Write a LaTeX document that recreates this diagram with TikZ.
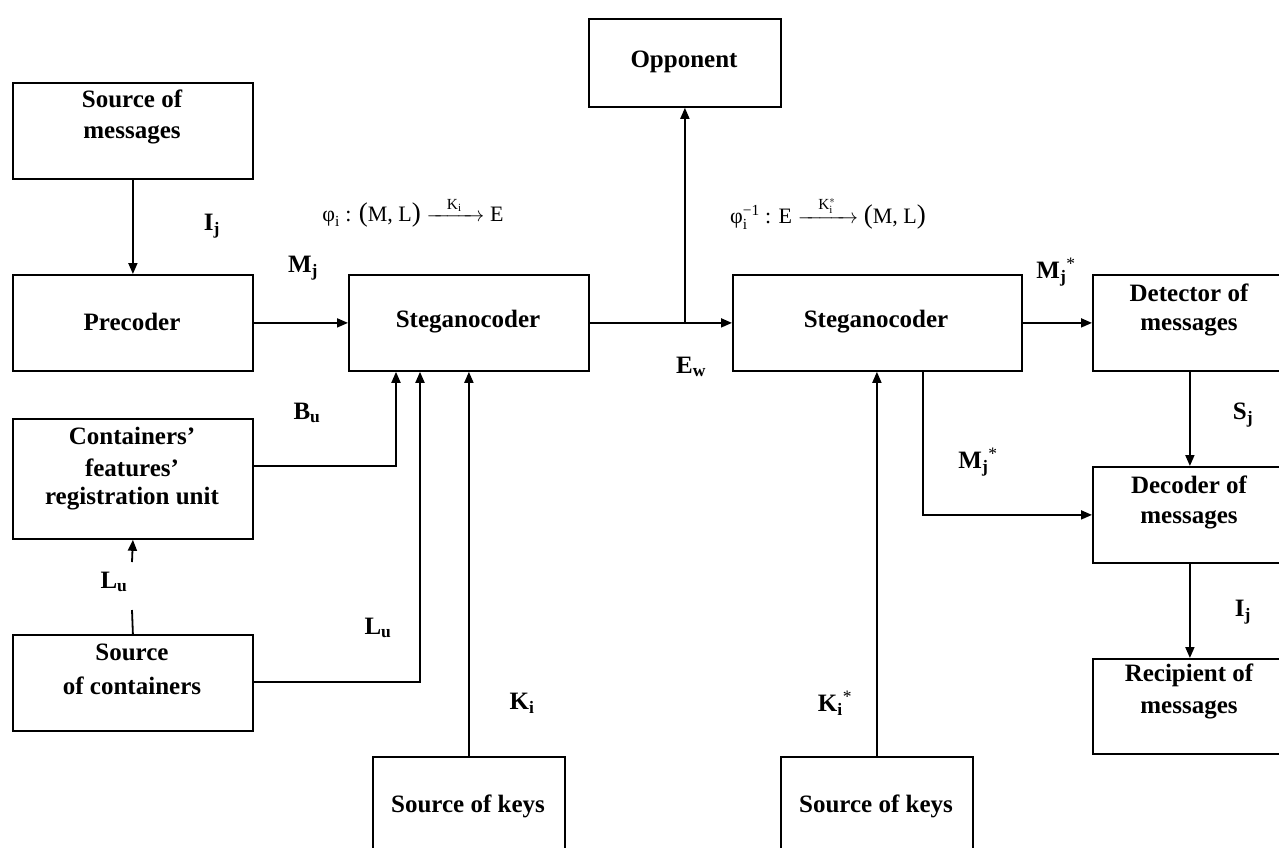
\documentclass[tikz,border=0pt]{standalone}
\usepackage{amsmath}
\usepackage{fontspec}
\setmainfont{Liberation Serif}
\usetikzlibrary{arrows.meta}
\newcommand{\bigpar}[1]{{\fontsize{27}{27}\selectfont #1}}
\begin{document}
\begin{tikzpicture}[x=1pt,y=-1pt,
  box/.style={draw, line width=1.8pt, inner sep=0pt, anchor=north west},
  txt/.style={font=\bfseries\fontsize{25}{30}\selectfont, inner sep=0pt},
  lbl/.style={font=\bfseries\fontsize{25}{30}\selectfont, inner sep=0pt},
  fml/.style={font=\fontsize{22}{26}\selectfont, inner sep=0pt},
  conn/.style={line width=1.8pt},
  arr/.style={conn, -{Triangle[length=11pt,width=9pt]}}]
\useasboundingbox (0,0) rectangle (1279,847);

% boxes
\node[box, minimum width=240pt, minimum height=96pt] (srcmsg) at (12,82) {};
\node[box, minimum width=240pt, minimum height=96pt] (pre) at (12,274) {};
\node[box, minimum width=240pt, minimum height=120pt] (cont) at (12,418) {};
\node[box, minimum width=240pt, minimum height=96pt] (srccont) at (12,634) {};
\node[box, minimum width=240pt, minimum height=96pt] (steg1) at (348,274) {};
\node[box, minimum width=192pt, minimum height=88pt] (opp) at (588,18) {};
\node[box, minimum width=289pt, minimum height=96pt] (steg2) at (732,274) {};
\node[box, minimum width=194pt, minimum height=96pt] (det) at (1092,274) {};
\node[box, minimum width=194pt, minimum height=96pt] (dec) at (1092,466) {};
\node[box, minimum width=194pt, minimum height=95pt] (rec) at (1092,658) {};
\node[box, minimum width=192pt, minimum height=120pt] (keys1) at (372,756) {};
\node[box, minimum width=192pt, minimum height=120pt] (keys2) at (780,756) {};

% box texts
\node[txt] (srcmsg-a) at (132,99) {Source of};
\node[txt] (srcmsg-b) at (132,135) {messages};
\node[txt] (pre-a) at (132,322) {Precoder};
\node[txt] (cont-a) at (132,436) {Containers’};
\node[txt] (cont-b) at (132,468) {features’};
\node[txt] (cont-c) at (132,499) {registration unit};
\node[txt] (srccont-a) at (132,652) {Source};
\node[txt] (srccont-b) at (132,686) {of containers};
\node[txt] (steg1-a) at (468,322) {Steganocoder};
\node[txt] (opp-a) at (684,62) {Opponent};
\node[txt] (steg2-a) at (876,322) {Steganocoder};
\node[txt] (det-a) at (1189,293) {Detector of};
\node[txt] (det-b) at (1189,327) {messages};
\node[txt] (dec-a) at (1189,485) {Decoder of};
\node[txt] (dec-b) at (1189,520) {messages};
\node[txt] (rec-a) at (1189,675) {Recipient of};
\node[txt] (rec-b) at (1189,710) {messages};
\node[txt] (keys1-a) at (468,806) {Source of keys};
\node[txt] (keys2-a) at (876,806) {Source of keys};

% formulas
\node[fml] (f1) at (413,212) {$\text{φ}_{\text{i}}\text{ : \bigpar{(}M, L\bigpar{)}}\xrightarrow{\hspace{16pt}\text{K}_{\text{i}}\hspace{16pt}}\text{E}$};
\node[fml] (f2) at (828,213) {$\text{φ}_{\text{i}}^{\text{−1}}\text{ : E}\xrightarrow{\hspace{16pt}\text{K}_{\text{i}}^{*}\hspace{16pt}}\text{\bigpar{(}M, L\bigpar{)}}$};

% labels
\node[lbl] (l-ij1) at (212,226) {I\textsubscript{j}};
\node[lbl] (l-mj) at (303,268) {M\textsubscript{j}};
\node[lbl] (l-bu) at (307,413) {B\textsubscript{u}};
\node[lbl] (l-lu1) at (114,582) {L\textsubscript{u}};
\node[lbl] (l-lu2) at (378,628) {L\textsubscript{u}};
\node[lbl] (l-ki) at (522,703) {K\textsubscript{i}};
\node[lbl] (l-ki2) at (835,703) {K\textsubscript{i}\textsuperscript{\mdseries *}};
\node[lbl] (l-ew) at (691,367) {E\textsubscript{w}};
\node[lbl] (l-mj2) at (1056,272) {M\textsubscript{j}\textsuperscript{\mdseries *}};
\node[lbl] (l-mj3) at (978,462) {M\textsubscript{j}\textsuperscript{\mdseries *}};
\node[lbl] (l-sj) at (1243,415) {S\textsubscript{j}};
\node[lbl] (l-ij2) at (1243,612) {I\textsubscript{j}};

% helper coordinates
\coordinate (bu) at (396,466);
\coordinate (lu) at (420,682);
\coordinate (g1) at (132,610);
\coordinate (g2) at (132,562);
\coordinate (md) at (923,514);

% connectors
\draw[arr] (srcmsg.south) -- (pre.north);
\draw[arr] (pre.east) -- (steg1.west);
\draw[arr] (cont.east |- bu) -| (steg1.south -| bu);
\draw[arr] (srccont.east |- lu) -| (steg1.south -| lu);
\draw[arr] (keys1.north) -- (steg1.south -| keys1.north);
\draw[conn] (srccont.north) -- (g1);
\draw[arr] (g2) -- (cont.south);
\draw[arr] (steg1.east) -- (steg2.west);
\draw[arr] (steg1.east -| opp.south) -- (opp.south);
\draw[arr] (steg2.east) -- (det.west);
\draw[arr] (steg2.south -| md) |- (dec.west);
\draw[arr] (keys2.north) -- (steg2.south -| keys2.north);
\draw[arr] (det.south) -- (dec.north);
\draw[arr] (dec.south) -- (rec.north);
\end{tikzpicture}
\end{document}
